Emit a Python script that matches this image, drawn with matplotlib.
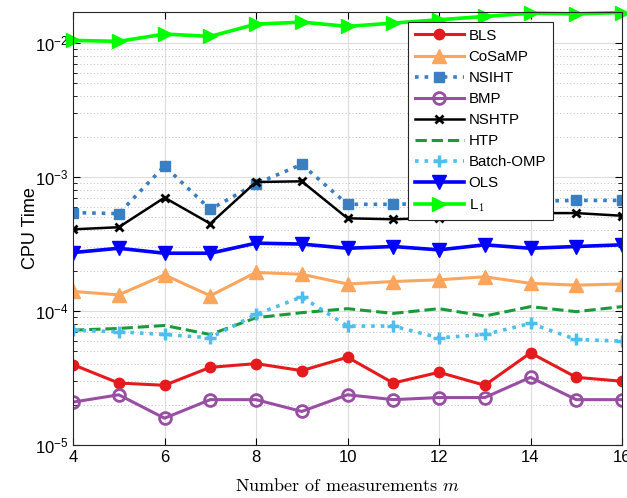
import numpy as np
import matplotlib
matplotlib.use('Agg')
import matplotlib.pyplot as plt
from matplotlib.ticker import LogLocator, NullFormatter

plt.rcParams['font.family'] = ['Liberation Sans', 'DejaVu Sans']
plt.rcParams['mathtext.fontset'] = 'cm'

m = [4, 5, 6, 7, 8, 9, 10, 11, 12, 13, 14, 15, 16]

bls = [3.98e-5, 2.90e-5, 2.79e-5, 3.80e-5, 4.05e-5, 3.59e-5, 4.52e-5,
       2.90e-5, 3.49e-5, 2.79e-5, 4.87e-5, 3.20e-5, 2.99e-5]
cosamp = [1.40e-4, 1.32e-4, 1.86e-4, 1.30e-4, 1.94e-4, 1.88e-4, 1.59e-4,
          1.66e-4, 1.71e-4, 1.80e-4, 1.61e-4, 1.56e-4, 1.59e-4]
nsiht = [5.43e-4, 5.33e-4, 1.208e-3, 5.74e-4, 8.91e-4, 1.242e-3, 6.26e-4,
         6.26e-4, 6.35e-4, 6.45e-4, 6.6e-4, 6.69e-4, 6.69e-4]
bmp = [2.09e-5, 2.37e-5, 1.585e-5, 2.18e-5, 2.18e-5, 1.78e-5, 2.37e-5,
       2.18e-5, 2.26e-5, 2.26e-5, 3.2e-5, 2.18e-5, 2.18e-5]
nshtp = [4.07e-4, 4.22e-4, 7.02e-4, 4.49e-4, 9.18e-4, 9.29e-4, 4.92e-4,
         4.84e-4, 4.95e-4, 5.2e-4, 5.38e-4, 5.38e-4, 5.14e-4]
htp = [7.2e-5, 7.41e-5, 7.8e-5, 6.68e-5, 8.91e-5, 9.72e-5, 1.041e-4,
       9.6e-5, 1.041e-4, 9.17e-5, 1.078e-4, 9.89e-5, 1.078e-4]
batch_omp = [7.2e-5, 7.0e-5, 6.68e-5, 6.31e-5, 9.44e-5, 1.274e-4, 7.72e-5,
             7.72e-5, 6.31e-5, 6.68e-5, 8.08e-5, 6.13e-5, 5.96e-5]
ols = [2.73e-4, 2.94e-4, 2.70e-4, 2.70e-4, 3.21e-4, 3.16e-4, 2.94e-4,
       3.03e-4, 2.86e-4, 3.12e-4, 2.94e-4, 3.03e-4, 3.12e-4]
l1 = [0.01047, 0.01029, 0.01167, 0.01121, 0.01384, 0.01433, 0.01331,
      0.0141, 0.01492, 0.0158, 0.0167, 0.01651, 0.0169]

fig = plt.figure(figsize=(6.27, 4.98), dpi=100)
ax = fig.add_axes([73 / 627, 1 - 445 / 498, 549 / 627, 433 / 498])

lw = 2.2
ax.plot(m, bls, '-o', color='#e41a1c', lw=lw, ms=7.5, label='BLS')
ax.plot(m, cosamp, '-^', color='#fca55d', lw=lw, ms=10, label='CoSaMP')
ax.plot(m, nsiht, ':s', color='#3a7fc1', lw=2.6, ms=6.5, label='NSIHT')
ax.plot(m, bmp, '-o', color='#984ea3', lw=lw, ms=8.5, mfc='none', mew=2, label='BMP')
ax.plot(m, nshtp, '-x', color='black', lw=1.8, ms=6, mew=2, label='NSHTP')
ax.plot(m, htp, '--', color='#1a9a3a', lw=lw, label='HTP')
ax.plot(m, batch_omp, ':+', color='#4dbeee', lw=2.6, ms=8.5, mew=2.5, label='Batch-OMP')
ax.plot(m, ols, '-v', color='#0000ff', lw=2.6, ms=10, label='OLS')
ax.plot(m, l1, '->', color='#00ff00', lw=2.6, ms=10, label='L$_1$', clip_on=False)

ax.set_yscale('log')
ax.set_xlim(4, 16)
ax.set_ylim(1e-5, 0.01705)
ax.set_xticks([4, 6, 8, 10, 12, 14, 16])
ax.yaxis.set_major_locator(LogLocator(base=10, numticks=10))
ax.yaxis.set_minor_locator(LogLocator(base=10, subs=np.arange(2, 10), numticks=20))
ax.yaxis.set_minor_formatter(NullFormatter())

ax.grid(True, which='major', color='#dcdcdc', lw=0.8)
ax.grid(True, which='minor', axis='y', color='#c0c0c0', lw=0.7, ls=(0, (1, 2.5)))
ax.set_axisbelow(True)
ax.tick_params(which='both', direction='in', top=True, right=True, labelsize=12)
ax.tick_params(which='major', length=5)
ax.tick_params(which='minor', length=3)
for s in ax.spines.values():
    s.set_color('#262626')
    s.set_linewidth(0.8)

ax.set_ylabel('CPU Time', fontsize=13, labelpad=-3)
ax.set_xlabel(r'Number of measurements $m$', fontsize=13, family='cmr10', labelpad=9)

leg = ax.legend(loc='upper right', bbox_to_anchor=(0.874, 0.977), fontsize=10.8,
                handlelength=3.3, labelspacing=0.47, borderpad=0.45, borderaxespad=0,
                handletextpad=0.3, fancybox=False, framealpha=1, edgecolor='#262626')
leg.get_frame().set_linewidth(0.8)

fig.savefig('out.png', dpi=100)
